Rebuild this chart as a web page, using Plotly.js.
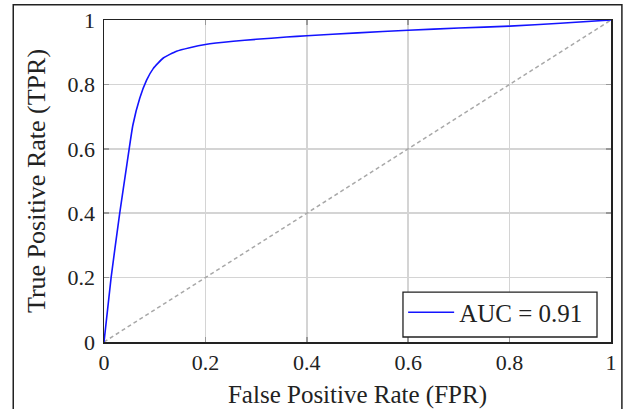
<!DOCTYPE html>
<html>
<head>
<meta charset="utf-8">
<script src="https://cdn.plot.ly/plotly-3.0.1.min.js"></script>
<style>html,body{margin:0;padding:0;background:#fff;}#chart{width:623px;height:409px;}</style>
</head>
<body>
<div id="chart"></div>
<script>
// ROC curve values
const fpr = [0, 0.014, 0.031, 0.045, 0.057, 0.0705, 0.084, 0.097, 0.117, 0.143, 0.169, 0.2, 0.255, 0.3, 0.36, 0.4, 0.5, 0.6, 0.7, 0.8, 0.9, 1.0];
const tpr = [0, 0.2, 0.4, 0.55, 0.674, 0.757, 0.813, 0.849, 0.882, 0.903, 0.914, 0.924, 0.934, 0.940, 0.947, 0.951, 0.960, 0.968, 0.975, 0.981, 0.990, 1.0];
const chanceX = [0, 1];
const chanceY = [0, 1];
const legendLabel = 'AUC = 0.91';
const tickVals = [0, 0.2, 0.4, 0.6, 0.8, 1];
const tickText = ['0', '0.2', '0.4', '0.6', '0.8', '1'];

const serif = '"Liberation Serif", "Times New Roman", Times, "DejaVu Serif", serif';

const traces = [
  {x: chanceX, y: chanceY, mode: 'lines', showlegend: false, hoverinfo: 'skip',
   line: {color: '#a8a8a8', width: 1.5, dash: '4px,3px'}},
  {x: fpr, y: tpr, mode: 'lines', name: legendLabel,
   line: {color: '#1414ff', width: 1.6, shape: 'spline', smoothing: 0.5}}
];

const axisCommon = {
  range: [0, 1], tickvals: tickVals, ticktext: tickText,
  showgrid: true, gridcolor: '#d4d4d4', gridwidth: 1.5,
  zeroline: false, showline: true, linecolor: '#222', linewidth: 1.5,
  mirror: 'ticks', ticks: 'inside', ticklen: 5, tickcolor: '#999', tickwidth: 1.5,
  tickfont: {family: serif, size: 22, color: '#222'}
};

const layout = {
  width: 623, height: 409,
  margin: {l: 104, r: 12, t: 20, b: 67},
  paper_bgcolor: '#fff', plot_bgcolor: '#fff',
  font: {family: serif, color: '#222'},
  xaxis: Object.assign({}, axisCommon, {
    ticklabelstandoff: 0,
    title: {text: 'False Positive Rate (FPR)', font: {family: serif, size: 25, color: '#222'}, standoff: 11}
  }),
  yaxis: Object.assign({}, axisCommon, {
    ticklabelstandoff: 3,
    title: {text: 'True Positive Rate (TPR)', font: {family: serif, size: 26, color: '#222'}, standoff: 14}
  }),
  legend: {
    x: 0.59, y: 0.02, xanchor: 'left', yanchor: 'bottom',
    bgcolor: 'rgba(0,0,0,0)', borderwidth: 0, itemwidth: 46,
    font: {family: serif, size: 25, color: '#222'}
  },
  shapes: [
    {type: 'rect', xref: 'paper', yref: 'paper',
     x0: -0.179, x1: 1.0215, y0: -0.3, y1: 1.047,
     line: {color: '#222', width: 1.5}, fillcolor: 'rgba(0,0,0,0)', layer: 'below'},
    {type: 'rect', xref: 'paper', yref: 'paper',
     x0: 0.5897, x1: 0.9724, y0: 0.0155, y1: 0.155,
     line: {color: '#222', width: 1.3}, fillcolor: '#fff', layer: 'above'}
  ],
  showlegend: true
};

Plotly.newPlot('chart', traces, layout, {displayModeBar: false, staticPlot: true});
</script>
</body>
</html>
